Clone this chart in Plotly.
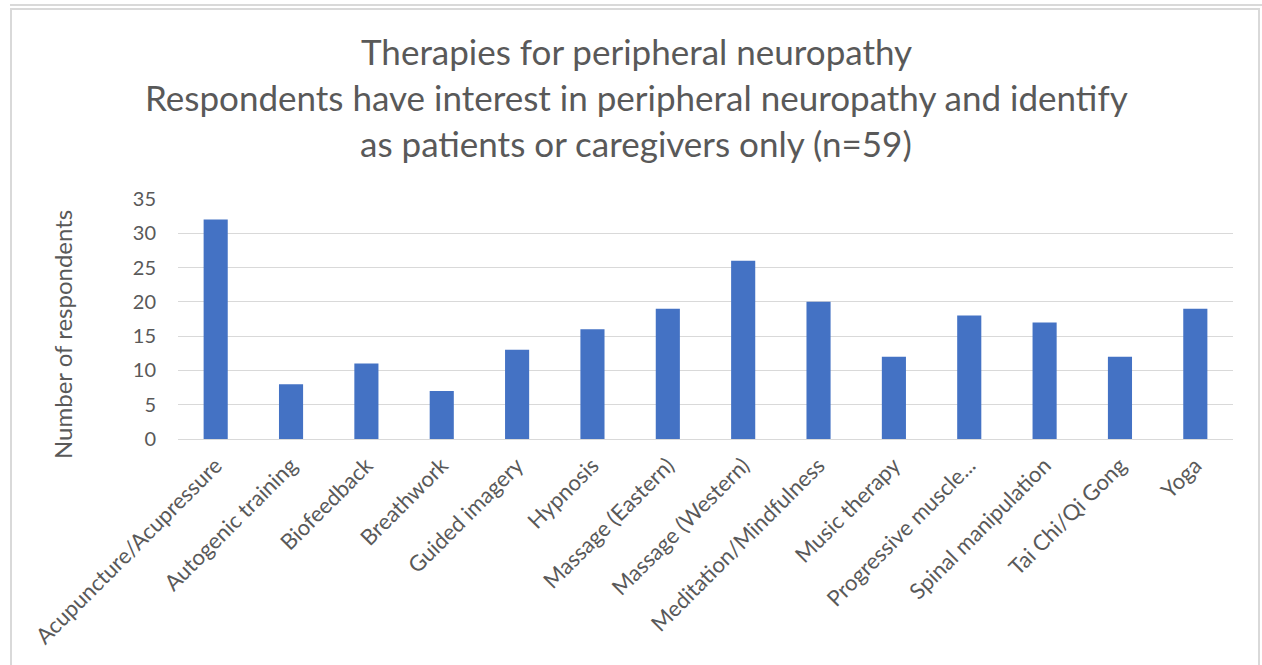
import plotly.graph_objects as go

# data
therapies = [
    "Acupuncture/Acupressure",
    "Autogenic training",
    "Biofeedback",
    "Breathwork",
    "Guided imagery",
    "Hypnosis",
    "Massage (Eastern)",
    "Massage (Western)",
    "Meditation/Mindfulness",
    "Music therapy",
    "Progressive muscle...",
    "Spinal manipulation",
    "Tai Chi/Qi Gong",
    "Yoga",
]
respondents = [32, 8, 11, 7, 13, 16, 19, 26, 20, 12, 18, 17, 12, 19]

title_lines = [
    "Therapies for peripheral neuropathy",
    "Respondents have interest in peripheral neuropathy and identify",
    "as patients or caregivers only (n=59)",
]

W, H = 1262, 665
L, R, T, B = 178, 1233, 199, 439  # plot area in pixels
text_color = "#595959"
grid_color = "#d9d9d9"
font_name = "Lato"


def px_x(x):
    return (x - L) / (R - L)


def px_y(y):
    return (B - y) / (B - T)


fig = go.Figure(
    go.Bar(
        x=therapies,
        y=respondents,
        marker=dict(color="#4472C4", line=dict(width=0)),
        hoverinfo="x+y",
    )
)

fig.update_layout(
    width=W,
    height=H,
    margin=dict(l=L, r=W - R, t=T, b=H - B),
    paper_bgcolor="white",
    plot_bgcolor="white",
    bargap=0.68,
    showlegend=False,
    font=dict(family=font_name, color=text_color),
)

fig.update_yaxes(
    range=[0, 35],
    dtick=5,
    showgrid=True,
    gridcolor=grid_color,
    gridwidth=1,
    zeroline=False,
    showline=False,
    tickfont=dict(size=20, color=text_color),
    ticklabelstandoff=21,
)
fig.update_xaxes(
    tickangle=-45,
    showline=True,
    linecolor=grid_color,
    linewidth=1,
    tickfont=dict(size=22, color=text_color),
    ticklabelstandoff=4,
)

# title lines
title_y = [51, 97, 143]
for txt, yy in zip(title_lines, title_y):
    fig.add_annotation(
        text=txt,
        xref="paper",
        yref="paper",
        x=px_x(636),
        y=px_y(yy),
        showarrow=False,
        xanchor="center",
        yanchor="middle",
        font=dict(size=35, color=text_color, family=font_name),
    )

# y axis title
fig.add_annotation(
    text="Number of respondents",
    xref="paper",
    yref="paper",
    x=px_x(62),
    y=px_y(335),
    textangle=-90,
    showarrow=False,
    xanchor="center",
    yanchor="middle",
    font=dict(size=24, color=text_color, family=font_name),
)

# chart frame lines
fig.add_shape(
    type="line", xref="paper", yref="paper",
    x0=px_x(10), x1=px_x(1262), y0=px_y(5), y1=px_y(5),
    line=dict(color=grid_color, width=2),
)
fig.add_shape(
    type="rect", xref="paper", yref="paper",
    x0=px_x(11), x1=px_x(1259), y0=px_y(9), y1=px_y(680),
    line=dict(color=grid_color, width=2),
    fillcolor="rgba(0,0,0,0)",
)

# drop the default page margin so the figure sits at the window's corner
fig.write_html(
    "out.html",
    config={"displayModeBar": False},
    post_script="document.body.style.margin='0';",
)
